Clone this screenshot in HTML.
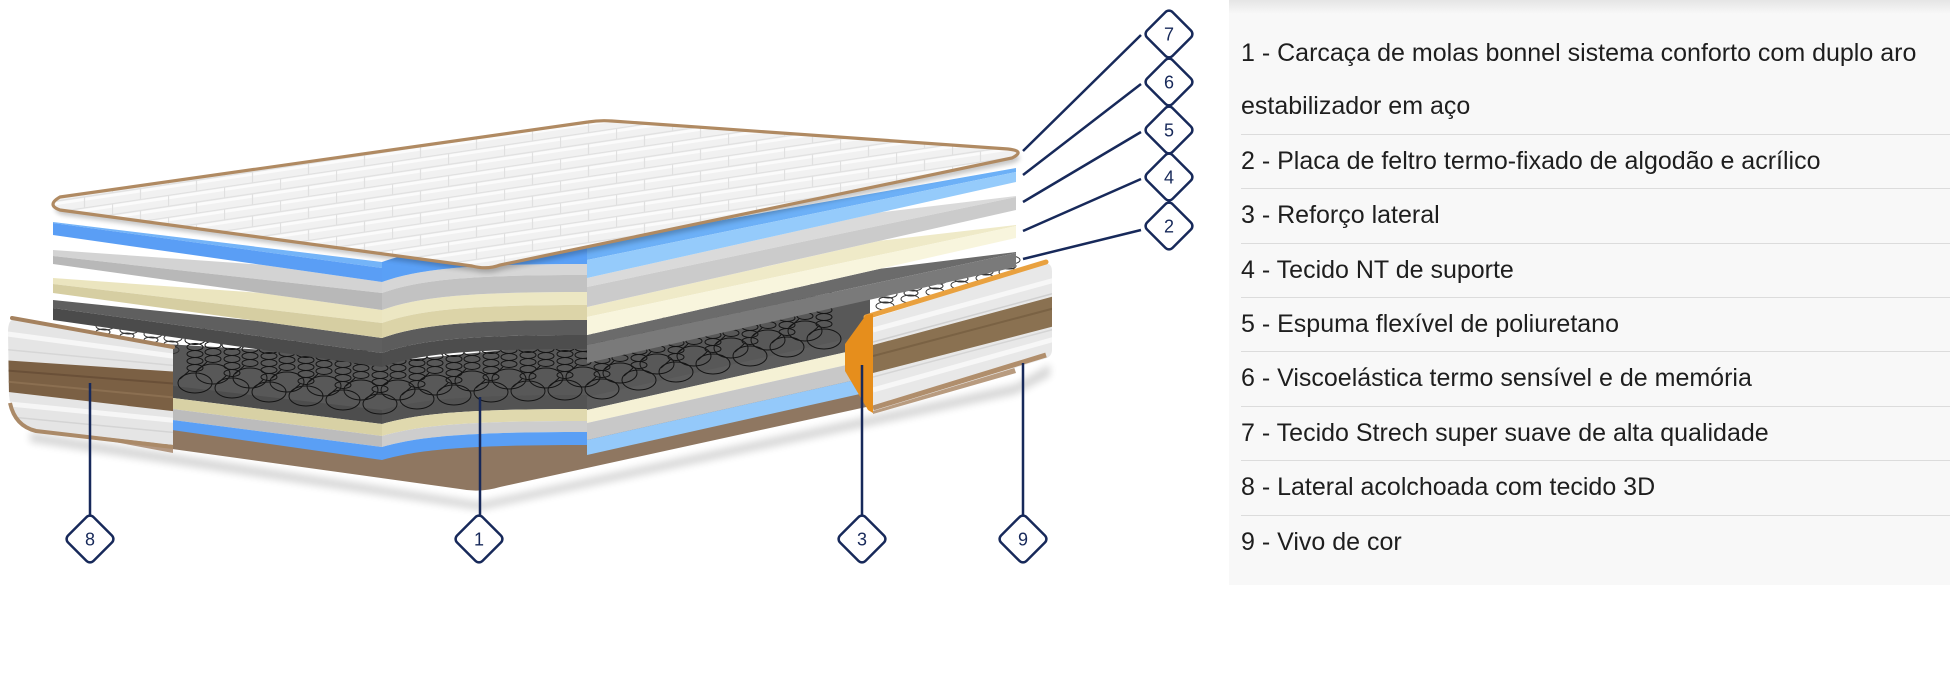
<!DOCTYPE html>
<html><head><meta charset="utf-8"><style>
html,body{margin:0;padding:0;background:#fff;}
body{width:1950px;height:696px;position:relative;overflow:hidden;}
#panel{position:absolute;left:1229px;top:0;width:721px;height:585px;background:linear-gradient(#e5e5e5 0px,#f8f8f8 14px,#f8f8f8 100%);}
#panel ul{list-style:none;margin:0;padding:27px 0 0 12px;font-family:"Liberation Sans",Arial,sans-serif;font-size:25px;line-height:53.4px;color:#1e1e1e;}
#panel li{border-bottom:1px solid #dcdcdc;white-space:nowrap;}
#panel li:last-child{border-bottom:none;}
</style></head><body>
<svg xmlns="http://www.w3.org/2000/svg" width="1950" height="696" viewBox="0 0 1950 696" style="position:absolute;left:0;top:0">
<defs>
 <pattern id="q" width="56" height="22" patternUnits="userSpaceOnUse" patternTransform="skewY(-8.5)">
  <rect width="56" height="22" fill="#f1f1f1"/>
  <path d="M0,3H56M0,14H56" stroke="#fbfbfb" stroke-width="3"/>
  <path d="M0,0.5H56M0,11.5H56" stroke="#e0e0e0" stroke-width="1.2"/>
  <path d="M0.5,0V11M28.5,11V22" stroke="#e0e0e0" stroke-width="1.2"/>
 </pattern>
 <filter id="bl" x="-10%" y="-50%" width="120%" height="200%"><feGaussianBlur stdDeviation="4"/></filter>
 <filter id="bl2" x="-10%" y="-50%" width="120%" height="200%"><feGaussianBlur stdDeviation="2.5"/></filter>
 <g id="sp" fill="none" stroke="#151515" stroke-width="1">
  <ellipse cx="0" cy="0" rx="17" ry="10"/>
  <path d="M-15,-4 L-6,-12"/>
  <ellipse cx="0" cy="-15" rx="8" ry="3.5"/>
  <ellipse cx="0" cy="-22" rx="8" ry="3.5"/>
  <ellipse cx="0" cy="-29" rx="8" ry="3.5"/>
  <ellipse cx="0" cy="-36" rx="8" ry="3.5"/>
  <ellipse cx="0" cy="-43" rx="10" ry="4.5"/>
 </g>
 <g id="sp2" fill="none" stroke="#333" stroke-width="1">
  <ellipse cx="0" cy="0" rx="9" ry="4"/><ellipse cx="1" cy="-6" rx="7" ry="3"/><ellipse cx="3" cy="-12" rx="9" ry="4"/>
 </g>
 <clipPath id="lp"><path d="M14,319 Q8,320 8,332 L9,395 Q11,420 32,429 L173,445 L173,347 Z"/></clipPath>
 <clipPath id="rp"><path d="M873,318 L1044,264 Q1052,262 1052,272 L1052,350 Q1052,357 1044,359 L873,411 Z"/></clipPath>
</defs>

<!-- ground shadow -->
<path d="M30,432 L173,454 L480,502 L1016,384 L1050,364 L1050,376 L1016,394 L480,510 L173,464 L30,442 Z" fill="#000" opacity="0.16" filter="url(#bl)"/>

<!-- brown base -->
<path d="M165,425 L382,450 L587,435 L880,370 L880,404 L500,487 Q480,493 460,489 L165,448 Z" fill="#8f7761"/>

<!-- springs dark background -->
<path d="M165,344 L300,352 L382,362 L587,342 L870,285 L870,345 L587,400 L382,412 L165,388 Z" fill="#585858"/>

<!-- lower layers: left -->
<path d="M165,385 L382,410 L382,424 L165,397 Z" fill="#4d4d4d"/>
<path d="M165,397 L382,424 L382,436 L165,408 Z" fill="#d8d1a5"/>
<path d="M165,408 L382,436 L382,447 L165,419 Z" fill="#bcbcbc"/>
<path d="M165,419 L382,447 L382,460 L165,429 Z" fill="#5a9ff5"/>
<!-- lower layers: middle -->
<path d="M382,410 C420,399 470,395 587,395 L587,409 C470,409 420,413 382,424 Z" fill="#535353"/>
<path d="M382,424 C420,413 470,409 587,409 L587,421 C470,421 420,425 382,436 Z" fill="#e0d9ae"/>
<path d="M382,436 C420,425 470,421 587,421 L587,432 C470,432 420,436 382,447 Z" fill="#cdcdcd"/>
<path d="M382,447 C420,436 470,432 587,432 L587,445 C470,445 420,449 382,460 Z" fill="#5a9ff5"/>
<!-- lower layers: right -->
<path d="M587,397 L870,333.7 L870,346.7 L587,410 Z" fill="#5d5d5d"/>
<path d="M587,410 L870,346.7 L870,359.7 L587,423 Z" fill="#f5f1d5"/>
<path d="M587,423 L870,359.7 L870,376.7 L587,440 Z" fill="#c8c8c8"/>
<path d="M587,440 L870,376.7 L870,391.7 L587,455 Z" fill="#94c9fa"/>

<!-- springs back row -->
<g>
<use href="#sp" x="213" y="374"/><use href="#sp" x="250" y="378"/><use href="#sp" x="287" y="382"/><use href="#sp" x="324" y="386"/><use href="#sp" x="361" y="390"/><use href="#sp" x="398" y="390"/><use href="#sp" x="435" y="385"/><use href="#sp" x="472" y="381"/><use href="#sp" x="509" y="379"/><use href="#sp" x="546" y="378"/><use href="#sp" x="583" y="377"/><use href="#sp" x="620" y="373"/><use href="#sp" x="657" y="364"/><use href="#sp" x="694" y="356"/><use href="#sp" x="731" y="348"/><use href="#sp" x="768" y="340"/><use href="#sp" x="805" y="331"/>
</g>
<!-- springs front row -->
<g>
<use href="#sp" x="195" y="383"/><use href="#sp" x="232" y="388"/><use href="#sp" x="269" y="392"/><use href="#sp" x="306" y="396"/><use href="#sp" x="343" y="400"/><use href="#sp" x="380" y="404"/><use href="#sp" x="417" y="399"/><use href="#sp" x="454" y="395"/><use href="#sp" x="491" y="392"/><use href="#sp" x="528" y="391"/><use href="#sp" x="565" y="390"/><use href="#sp" x="602" y="389"/><use href="#sp" x="639" y="380"/><use href="#sp" x="676" y="372"/><use href="#sp" x="713" y="364"/><use href="#sp" x="750" y="356"/><use href="#sp" x="787" y="347"/><use href="#sp" x="824" y="339"/>
</g>
<!-- springs on white (left / right) -->
<use href="#sp2" x="102" y="338"/><use href="#sp2" x="126" y="342"/><use href="#sp2" x="150" y="346"/><use href="#sp2" x="170" y="350"/>
<use href="#sp2" x="885" y="306"/><use href="#sp2" x="910" y="299"/><use href="#sp2" x="935" y="292"/><use href="#sp2" x="960" y="285"/><use href="#sp2" x="985" y="278"/><use href="#sp2" x="1008" y="272"/>

<!-- upper dark slab (2) -->
<path d="M53,300 L260,321.3 L382,338 L382,353 L53,308 Z" fill="#5f5f5f"/>
<path d="M53,308 L382,353 L382,367 L53,320 Z" fill="#4b4b4b"/>
<path d="M382,338 C420,324.5 470,320 587,320 L587,335 C470,335 420,339.5 382,353 Z" fill="#5c5c5c"/>
<path d="M382,353 C420,339.5 470,335 587,335 L587,349 C470,349 420,353.5 382,367 Z" fill="#4d4d4d"/>
<path d="M587,335 L880,268.8 L1016,252 L1016,253 L587,345 Z" fill="#6b6b6b"/>
<path d="M587,345 L1016,253 L1016,267 L587,363 Z" fill="#7a7a7a"/>
<!-- cream (4) -->
<path d="M53,278 L260,292.9 L382,310 L382,323 L53,284 Z" fill="#ebe5bf"/>
<path d="M53,284 L382,323 L382,338 L53,293 Z" fill="#d6cea2"/>
<path d="M382,310 C420,296.5 470,292 587,292 L587,305 C470,305 420,309.5 382,323 Z" fill="#ece7c3"/>
<path d="M382,323 C420,309.5 470,305 587,305 L587,320 C470,320 420,324.5 382,338 Z" fill="#dcd4a8"/>
<path d="M587,307 L880,240.8 L1016,225 L1016,226 L587,317 Z" fill="#efeac8"/>
<path d="M587,317 L1016,226 L1016,238 L587,335 Z" fill="#f8f5dd"/>
<!-- gray (5) -->
<path d="M53,250 L260,264.6 L382,282 L382,293 L53,256 Z" fill="#d3d3d3"/>
<path d="M53,256 L382,293 L382,310 L53,264 Z" fill="#b8b8b8"/>
<path d="M382,282 C420,268.5 470,264 587,264 L587,275 C470,275 420,279.5 382,293 Z" fill="#d6d6d6"/>
<path d="M382,293 C420,279.5 470,275 587,275 L587,292 C470,292 420,296.5 382,310 Z" fill="#c2c2c2"/>
<path d="M587,278 L880,212.4 L1016,196 L1016,197 L587,287 Z" fill="#dadada"/>
<path d="M587,287 L1016,197 L1016,210 L587,307 Z" fill="#cbcbcb"/>
<!-- blue (6) -->
<path d="M53,222 L382,262 L382,268 L53,223 Z" fill="#74b4f8"/>
<path d="M53,223 L382,268 L382,282 L53,235 Z" fill="#5a9ef5"/>
<path d="M382,262 C420,248.5 470,244 587,244 L587,264 C470,264 420,268.5 382,282 Z" fill="#5aa0f6"/>
<path d="M587,244 L1016,168 L1016,172 L587,260 Z" fill="#6cb0f7"/>
<path d="M587,260 L1016,172 L1016,182 L587,278 Z" fill="#95cbfb"/>

<!-- top pad (7) -->
<path d="M60,197 L588,122 Q600,120 612,121 L1008,149 Q1026,151 1012,158 L500,265 Q487,270 472,266 L60,210 Q46,205 60,197 Z" fill="#000" opacity="0.22" transform="translate(2,5)" filter="url(#bl2)"/>
<path d="M60,197 L588,122 Q600,120 612,121 L1008,149 Q1026,151 1012,158 L500,265 Q487,270 472,266 L60,210 Q46,205 60,197 Z" fill="url(#q)" stroke="#b08a62" stroke-width="3.2"/>

<!-- left side panel (8) -->
<path d="M48,424 L173,446 L173,453 L56,431 Z" fill="#b39780"/>
<g clip-path="url(#lp)">
 <rect x="0" y="300" width="180" height="160" fill="#e5e5e5"/>
 <path d="M0,333 L180,357" stroke="#f6f6f6" stroke-width="5"/>
 <path d="M0,349 L180,366" stroke="#d6d6d6" stroke-width="1.5"/>
 <path d="M0,360 L180,372 L180,412 L0,391 Z" fill="#7b6044"/>
 <path d="M0,370 L180,384" stroke="#6a5038" stroke-width="2"/>
 <path d="M0,381 L180,398" stroke="#8b6f51" stroke-width="2"/>
 <path d="M0,403 L180,421" stroke="#f6f6f6" stroke-width="5"/>
 <path d="M0,416 L180,433" stroke="#d4d4d4" stroke-width="1.5"/>
</g>
<path d="M12,318 L173,347" stroke="#a5825f" stroke-width="4" stroke-linecap="round" fill="none"/>
<path d="M10,403 Q15,426 36,431 L173,447" stroke="#ab8a68" stroke-width="4" fill="none"/>

<!-- right side panel (3 / 9) -->
<path d="M873,406 L1014,367 L1016,373 L873,414 Z" fill="#b89b7f"/>
<g clip-path="url(#rp)">
 <rect x="860" y="250" width="200" height="170" fill="#e8e8e8"/>
 <path d="M873,330 L1055,280" stroke="#f7f7f7" stroke-width="5"/>
 <path d="M873,342 L1055,293" stroke="#d0d0d0" stroke-width="1.5"/>
 <path d="M873,345 L1055,296 L1055,326 L873,373 Z" fill="#8a7151"/>
 <path d="M873,356 L1055,308" stroke="#7a6244" stroke-width="2"/>
 <path d="M873,377 L1055,329" stroke="#d5d5d5" stroke-width="1.5"/>
 <path d="M873,390 L1055,339" stroke="#f7f7f7" stroke-width="5"/>
</g>
<path d="M873,408 L1046,355" stroke="#b08e6c" stroke-width="5" fill="none"/>
<path d="M866,317 L1046,262" stroke="#e9a13f" stroke-width="5" stroke-linecap="round" fill="none"/>
<path d="M873,314 L866,315 L845,344 L845,371 L868,410 L873,413 Z" fill="#e68e1c"/>

<!-- leader lines -->
<g stroke="#17295a" stroke-width="2.5" fill="none">
 <path d="M1141,35 L1023,151"/>
 <path d="M1141,84 L1023,175"/>
 <path d="M1141,132 L1023,202"/>
 <path d="M1141,179 L1023,231"/>
 <path d="M1141,230 L1023,259"/>
 <path d="M90,383 V515"/>
 <path d="M480,397 V515"/>
 <path d="M862,365 V515"/>
 <path d="M1023,363 V515"/>
</g>
<!-- diamonds -->
<g fill="#fff" stroke="#17295a" stroke-width="2.5">
 <rect x="-18" y="-18" width="36" height="36" rx="5" transform="translate(1169,34) rotate(45)"/>
 <rect x="-18" y="-18" width="36" height="36" rx="5" transform="translate(1169,82) rotate(45)"/>
 <rect x="-18" y="-18" width="36" height="36" rx="5" transform="translate(1169,130) rotate(45)"/>
 <rect x="-18" y="-18" width="36" height="36" rx="5" transform="translate(1169,177) rotate(45)"/>
 <rect x="-18" y="-18" width="36" height="36" rx="5" transform="translate(1169,226) rotate(45)"/>
 <rect x="-18" y="-18" width="36" height="36" rx="5" transform="translate(90,539) rotate(45)"/>
 <rect x="-18" y="-18" width="36" height="36" rx="5" transform="translate(479,539) rotate(45)"/>
 <rect x="-18" y="-18" width="36" height="36" rx="5" transform="translate(862,539) rotate(45)"/>
 <rect x="-18" y="-18" width="36" height="36" rx="5" transform="translate(1023,539) rotate(45)"/>
</g>
<g font-family="Liberation Sans, Arial, sans-serif" font-size="18" fill="#17295a" text-anchor="middle">
 <text x="1169" y="40.5">7</text>
 <text x="1169" y="88.5">6</text>
 <text x="1169" y="136.5">5</text>
 <text x="1169" y="183.5">4</text>
 <text x="1169" y="232.5">2</text>
 <text x="90" y="545.5">8</text>
 <text x="479" y="545.5">1</text>
 <text x="862" y="545.5">3</text>
 <text x="1023" y="545.5">9</text>
</g>
</svg>

<div id="panel">
<ul>
<li>1 - Carcaça de molas bonnel sistema conforto com duplo aro<br>estabilizador em aço</li>
<li>2 - Placa de feltro termo-fixado de algodão e acrílico</li>
<li>3 - Reforço lateral</li>
<li>4 - Tecido NT de suporte</li>
<li>5 - Espuma flexível de poliuretano</li>
<li>6 - Viscoelástica termo sensível e de memória</li>
<li>7 - Tecido Strech super suave de alta qualidade</li>
<li>8 - Lateral acolchoada com tecido 3D</li>
<li>9 - Vivo de cor</li>
</ul>
</div>
</body></html>
